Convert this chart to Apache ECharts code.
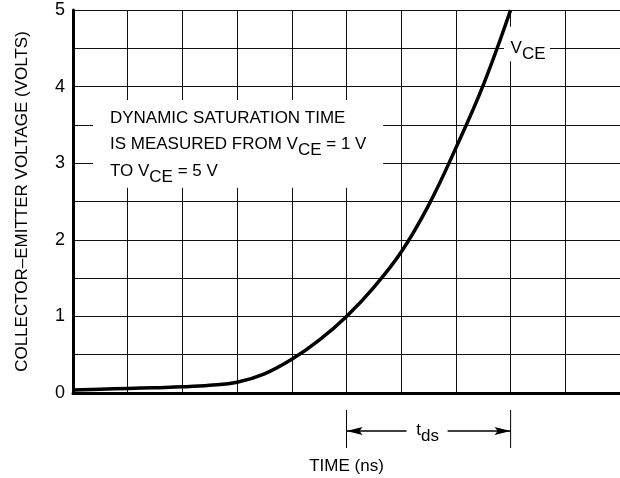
<!DOCTYPE html>
<html><head><meta charset="utf-8">
<script src="https://cdn.jsdelivr.net/npm/echarts@6/dist/echarts.min.js"></script>
<style>html,body{margin:0;padding:0;background:#fff}#c{width:620px;height:478px}</style>
</head><body><div id="c"></div>
<script>
// Data
const timeNs = [0, 0.5, 1, 1.5, 2, 2.5, 3, 3.5, 4, 4.5, 5, 5.5, 6, 6.5, 7, 7.5, 8];
const vce    = [0.04, 0.05, 0.06, 0.07, 0.08, 0.10, 0.14, 0.25, 0.44, 0.69, 1.0, 1.38, 1.84, 2.45, 3.2, 4.02, 5.0];
const yTickLabels = ['0', '1', '2', '3', '4', '5'];
const tdsStart = 5, tdsEnd = 8;

const FONT = "'Liberation Sans', Arial, Helvetica, sans-serif";
const chart = echarts.init(document.getElementById('c'));
chart.setOption({
  animation: false,
  backgroundColor: '#fff',
  textStyle: { fontFamily: FONT, color: '#000' },
  grid: { left: 73, right: 0, top: 10, bottom: 85, containLabel: false, outerBoundsMode: 'none' },
  xAxis: {
    type: 'value', min: 0, max: 10, interval: 1,
    name: 'TIME (ns)', nameLocation: 'middle', nameGap: 65,
    nameTextStyle: { fontSize: 17, color: '#000', fontFamily: FONT },
    axisLine: { lineStyle: { color: '#000', width: 3 } },
    axisTick: { show: false }, axisLabel: { show: false },
    splitLine: { show: true, lineStyle: { color: '#111', width: 1 } }
  },
  yAxis: {
    type: 'value', min: 0, max: 5, interval: 0.5,
    name: 'COLLECTOR\u2013EMITTER VOLTAGE (VOLTS)', nameLocation: 'middle', nameGap: 42, nameRotate: 90,
    nameTextStyle: { fontSize: 17, color: '#000', fontFamily: FONT },
    axisLine: { show: true, lineStyle: { color: '#000', width: 3 } },
    axisTick: { show: false },
    axisLabel: {
      margin: 8, fontSize: 18, color: '#000', fontFamily: FONT,
      formatter: v => (Number.isInteger(v) ? yTickLabels[v] : '')
    },
    splitLine: { show: true, lineStyle: { color: '#111', width: 1 } }
  },
  series: [{
    type: 'line', data: timeNs.map((t, i) => [t, vce[i]]),
    smooth: 0.4, showSymbol: false, z: 5,
    lineStyle: { color: '#000', width: 3.5 }
  }]
});

function px(x, y) { return chart.convertToPixel({ gridIndex: 0 }, [x, y]); }
const base = px(0, 0)[1];
const xs = px(tdsStart, 0)[0], xe = px(tdsEnd, 0)[0];
const arrowY = base + 38;
const rich = {
  n: { fontSize: 17, fontFamily: FONT, color: '#000', padding: [0, 0, 6, 0], verticalAlign: 'bottom' },
  s: { fontSize: 17, fontFamily: FONT, color: '#000', verticalAlign: 'bottom' }
};
const b1 = px(0.366, 3.825), b2 = px(5.67, 2.68);
const t0 = px(0.676, 3.55), t1 = px(0.676, 3.21), t2 = px(0.676, 2.86);
const v1 = px(7.88, 4.78), v2 = px(8.72, 4.33);
const vt = px(8.0, 4.46);
chart.setOption({
  graphic: [
    { type: 'rect', z: 1, shape: { x: b1[0], y: b1[1], width: b2[0] - b1[0], height: b2[1] - b1[1] }, style: { fill: '#fff' } },
    { type: 'text', z: 10, x: t0[0], y: t0[1], style: { text: '{n|DYNAMIC SATURATION TIME}', rich, verticalAlign: 'middle' } },
    { type: 'text', z: 10, x: t1[0], y: t1[1], style: { text: '{n|IS MEASURED FROM V}{s|CE}{n| = 1 V}', rich, verticalAlign: 'middle' } },
    { type: 'text', z: 10, x: t2[0], y: t2[1], style: { text: '{n|TO V}{s|CE}{n| = 5 V}', rich, verticalAlign: 'middle' } },
    { type: 'rect', z: 1, shape: { x: v1[0], y: v1[1], width: v2[0] - v1[0], height: v2[1] - v1[1] }, style: { fill: '#fff' } },
    { type: 'text', z: 10, x: vt[0], y: vt[1], style: { text: '{n|V}{s|CE}', rich, verticalAlign: 'middle' } },
    { type: 'line', z: 10, shape: { x1: xs, y1: base + 17, x2: xs, y2: base + 55 }, style: { stroke: '#000', lineWidth: 1 } },
    { type: 'line', z: 10, shape: { x1: xe, y1: base + 17, x2: xe, y2: base + 55 }, style: { stroke: '#000', lineWidth: 1 } },
    { type: 'line', z: 10, shape: { x1: xs, y1: arrowY, x2: xs + 60, y2: arrowY }, style: { stroke: '#000', lineWidth: 1.3 } },
    { type: 'line', z: 10, shape: { x1: xe - 63, y1: arrowY, x2: xe, y2: arrowY }, style: { stroke: '#000', lineWidth: 1.3 } },
    { type: 'polygon', z: 10, shape: { points: [[xs, arrowY], [xs + 16, arrowY - 4], [xs + 13, arrowY], [xs + 16, arrowY + 4]] }, style: { fill: '#000' } },
    { type: 'polygon', z: 10, shape: { points: [[xe, arrowY], [xe - 16, arrowY - 4], [xe - 13, arrowY], [xe - 16, arrowY + 4]] }, style: { fill: '#000' } },
    { type: 'text', z: 10, x: (xs + xe) / 2 - 1, y: arrowY + 2, style: { text: '{n|t}{s|ds}', rich, align: 'center', verticalAlign: 'middle' } }
  ]
});
</script></body></html>
